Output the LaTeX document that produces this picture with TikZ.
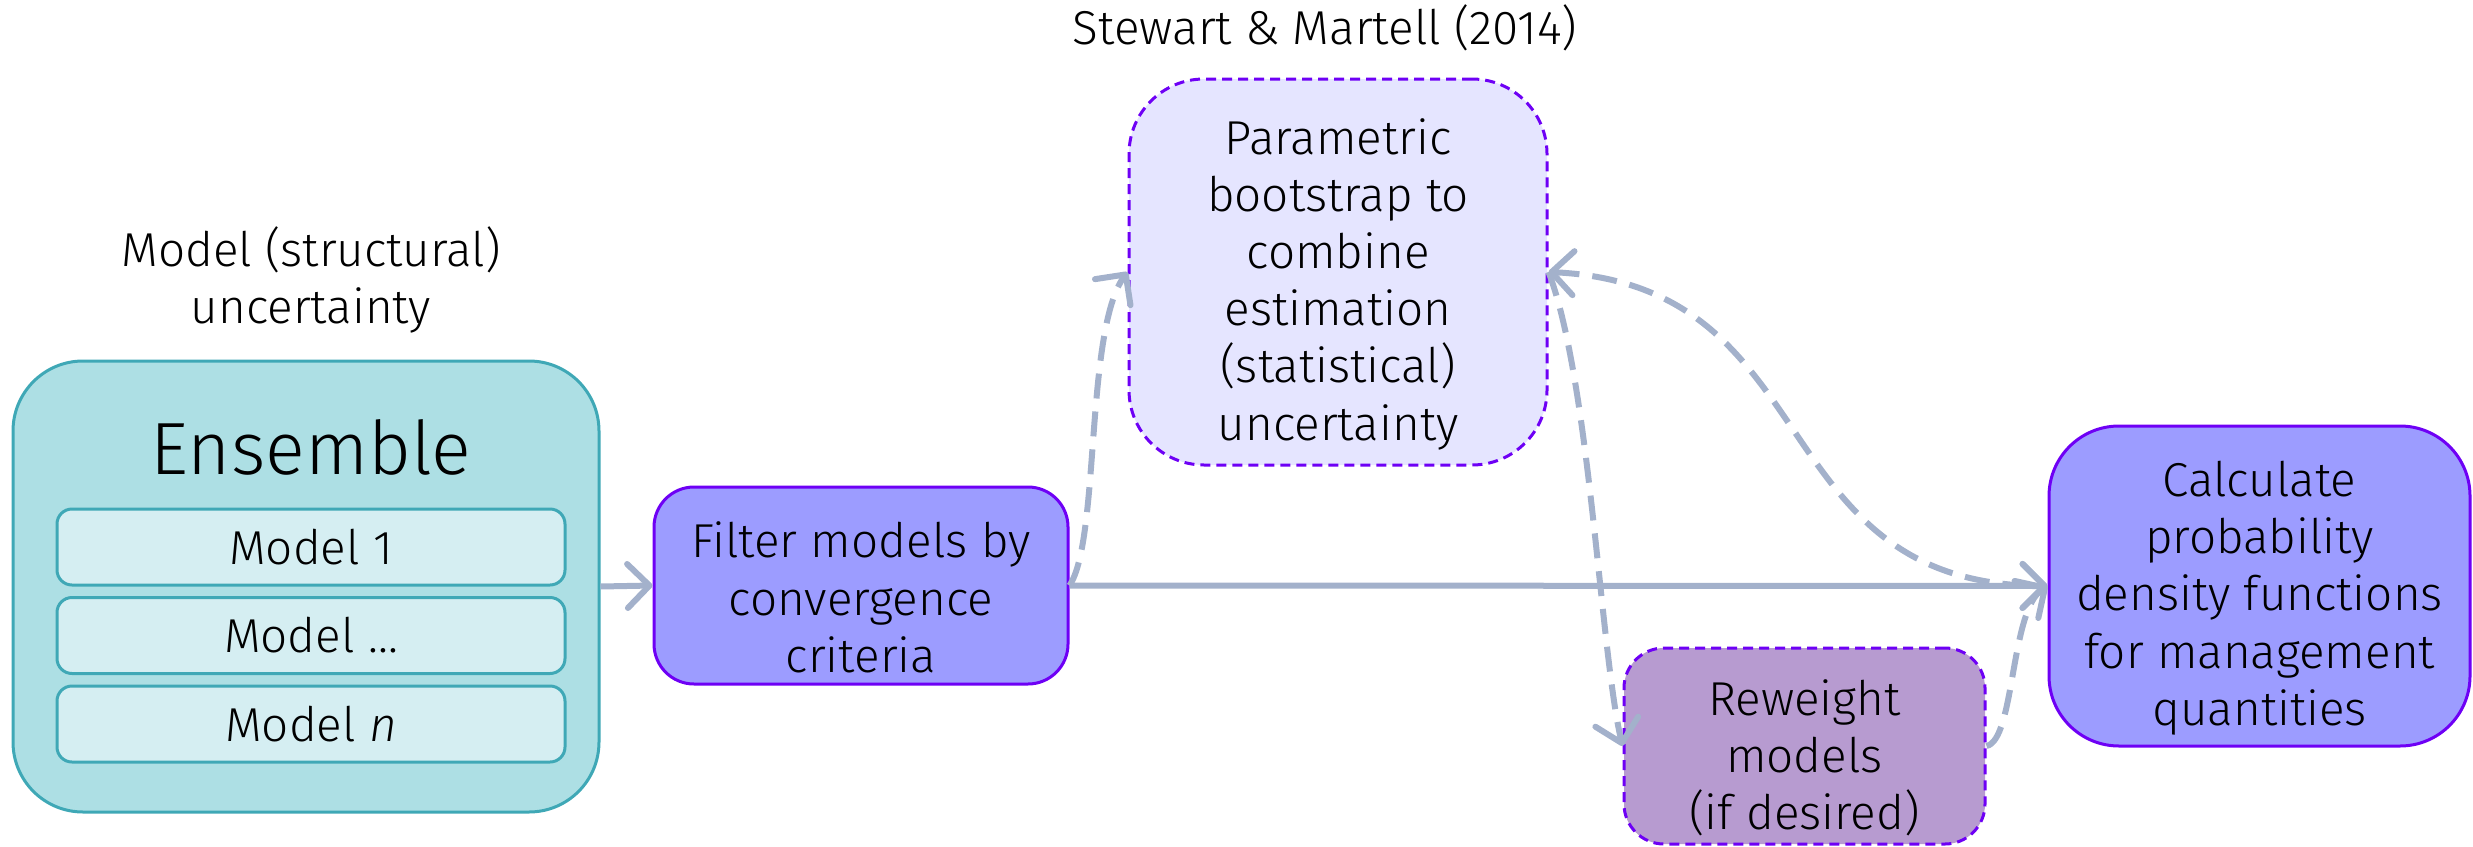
\documentclass[tikz,border=0pt]{standalone}
\usepackage{fontspec}
\setmainfont{Fira Sans Light}
\usepackage{tikz}
\usetikzlibrary{arrows.meta}

\definecolor{enscol}{HTML}{ADDFE4}
\definecolor{ensline}{HTML}{3FA8B6}
\definecolor{modcol}{HTML}{D5EEF2}
\definecolor{bluebox}{HTML}{9C9CFF}
\definecolor{boxline}{HTML}{6E00F5}
\definecolor{palebox}{HTML}{E5E5FF}
\definecolor{mauvebox}{HTML}{B79BD0}
\definecolor{flowcol}{HTML}{A3B1CB}

\begin{document}
\begin{tikzpicture}[x=0.25pt, y=0.25pt,
    every node/.style={font=\fontsize{11.9}{14.3}\selectfont, align=center, inner sep=0pt},
    ensbox/.style={draw=ensline, fill=enscol, line width=0.75pt, rounded corners=17.5pt,
      minimum width=146.5pt, minimum height=112.75pt},
    modbox/.style={draw=ensline, fill=modcol, line width=0.75pt, rounded corners=3.75pt,
      minimum width=127pt, minimum height=19pt},
    solidbox/.style={draw=boxline, fill=bluebox, line width=0.75pt},
    dashbox/.style={draw=boxline, line width=0.75pt, dash pattern=on 2.5pt off 1.5pt},
    boxtext/.style={label={[name=\tikzlastnode-t, yshift=-3pt]center:{#1}}},
    tip/.style={Straight Barb[length=5.5pt, width=11pt, round]},
    flow/.style={draw=flowcol, line width=1.5pt, -{Straight Barb[length=5.5pt, width=11pt, round]}},
    dashflow/.style={flow, dash pattern=on 6.25pt off 3.25pt}
  ]
    \useasboundingbox (0,0) rectangle (2473,-846);

    % ensemble of models
    \node (unc) at (311,-280) {Model (structural)\\uncertainty};
    \node[ensbox] (ens) at (306,-586.5) {};
    \node[font=\fontsize{18.5}{22}\selectfont] (enstitle) at (311,-447) {Ensemble};
    \foreach \i/\y/\t in {1/-547/{Model 1}, 2/-635.5/{Model \ldots}, 3/-724/{Model \textit{n}}} {
        \node[modbox] (m\i) at (311,\y) {\t};
    }

    % steps
    \node[solidbox, rounded corners=10pt, minimum width=103.5pt, minimum height=49.25pt,
        boxtext={Filter models by\\convergence\\criteria}] (filter) at (861,-585.5) {};
    \node (ref) at (1325,-28) {Stewart \& Martell (2014)};
    \node[dashbox, fill=palebox, rounded corners=18.75pt, minimum width=104.5pt, minimum height=96.5pt,
        boxtext={Parametric\\bootstrap to\\combine\\estimation\\(statistical)\\uncertainty}]
        (boot) at (1338,-272) {};
    \node[dashbox, fill=mauvebox, rounded corners=10pt, minimum width=90.25pt, minimum height=49pt,
        boxtext={Reweight\\models\\(if desired)}] (rew) at (1804.5,-746) {};
    \node[solidbox, rounded corners=17.5pt, minimum width=105.25pt, minimum height=80pt,
        boxtext={Calculate\\probability\\density functions\\for management\\quantities}]
        (calc) at (2259.5,-586) {};

    % connectors
    \draw[flow] (ens.east) -- (filter.west);
    \draw[flow] (filter.east) -- (calc.west);
    \draw[dashflow] (filter.east) .. controls (1100,-540) and (1085,-330) .. (boot.west);
    \draw[dashflow, {Straight Barb[length=5.5pt, width=11pt, round]}-{Straight Barb[length=5.5pt, width=11pt, round]}]
        (boot.east) .. controls (1830,-285) and (1760,-585) .. (calc.west);
    \draw[dashflow] (boot.east) .. controls (1590,-380) and (1600,-650) .. (rew.west);
    \draw[dashflow] (rew.east) .. controls (2015,-740) and (2010,-610) .. (calc.west);
\end{tikzpicture}
\end{document}
